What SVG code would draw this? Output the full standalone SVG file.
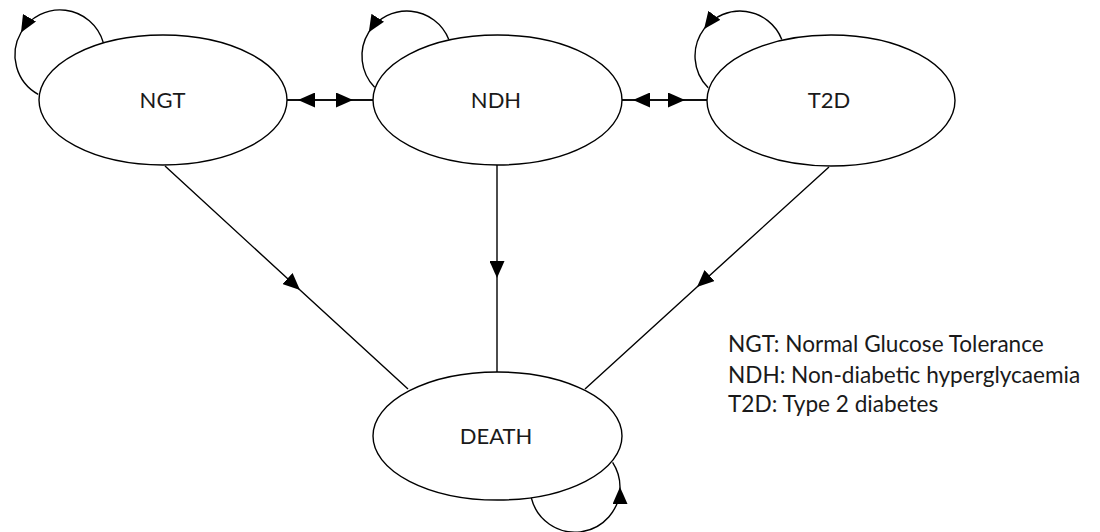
<svg xmlns="http://www.w3.org/2000/svg" width="1100" height="532" viewBox="0 0 1100 532">
<style>
.node{fill:#fff;stroke:#000;stroke-width:1.4}
.lbl{font-family:Lato,"Open Sans","Liberation Sans",sans-serif;font-size:22px;fill:#1a1a1a;text-anchor:middle}
.leg{font-family:Lato,"Open Sans","Liberation Sans",sans-serif;font-size:22.6px;fill:#1a1a1a}
.edge{fill:none;stroke:#000;stroke-width:1.4;marker-mid:url(#arr)}
</style>
<defs>
<marker id="arr" markerUnits="userSpaceOnUse" markerWidth="17" markerHeight="15" viewBox="0 0 17 15" refX="17" refY="7.5" orient="auto">
<path d="M0,0 L17,7.5 L0,15 z" fill="#000"/>
</marker>
</defs>
<g id="connectors">
<path class="edge" d="M373,100 L298,100 L287,100"/>
<path class="edge" d="M287,100 L353,100 L373,100"/>
<path class="edge" d="M708,100 L633,100 L622,100"/>
<path class="edge" d="M622,100 L685,100 L708,100"/>
<path class="edge" d="M165,166 L300,290 L408,389"/>
<path class="edge" d="M497,165 L497,278 L497,372"/>
<path class="edge" d="M829,167 L697,287 L585,389"/>
<path class="edge" d="M103.3,42.6 A45,45 0 0 0 21,32.5 A45,45 0 0 0 38.2,94.4"/>
<path class="edge" d="M448.8,39.4 A45,45 0 0 0 368.8,32.2 A45,45 0 0 0 374.6,87.3"/>
<path class="edge" d="M781.8,39.4 A45,45 0 0 0 704.1,28.9 A45,45 0 0 0 708.2,87.8"/>
<path class="edge" d="M531.3,497.9 A45,45 0 0 0 620,487 A45,45 0 0 0 612.6,462.3"/>
</g>
<g id="NGT">
<ellipse class="node" cx="163" cy="100" rx="124" ry="65"/>
<text class="lbl" x="162.5" y="108">NGT</text>
</g>
<g id="NDH">
<ellipse class="node" cx="497.5" cy="100" rx="124.5" ry="65"/>
<text class="lbl" x="496" y="108">NDH</text>
</g>
<g id="T2D">
<ellipse class="node" cx="831" cy="100.5" rx="124" ry="65.5"/>
<text class="lbl" x="829" y="108">T2D</text>
</g>
<g id="DEATH">
<ellipse class="node" cx="497.5" cy="436" rx="124.5" ry="64"/>
<text class="lbl" x="496" y="444">DEATH</text>
</g>
<g id="legend">
<text class="leg" x="728" y="352">NGT: Normal Glucose Tolerance</text>
<text class="leg" x="728" y="382.5">NDH: Non-diabetic hyperglycaemia</text>
<text class="leg" x="728" y="412">T2D: Type 2 diabetes</text>
</g>
</svg>
